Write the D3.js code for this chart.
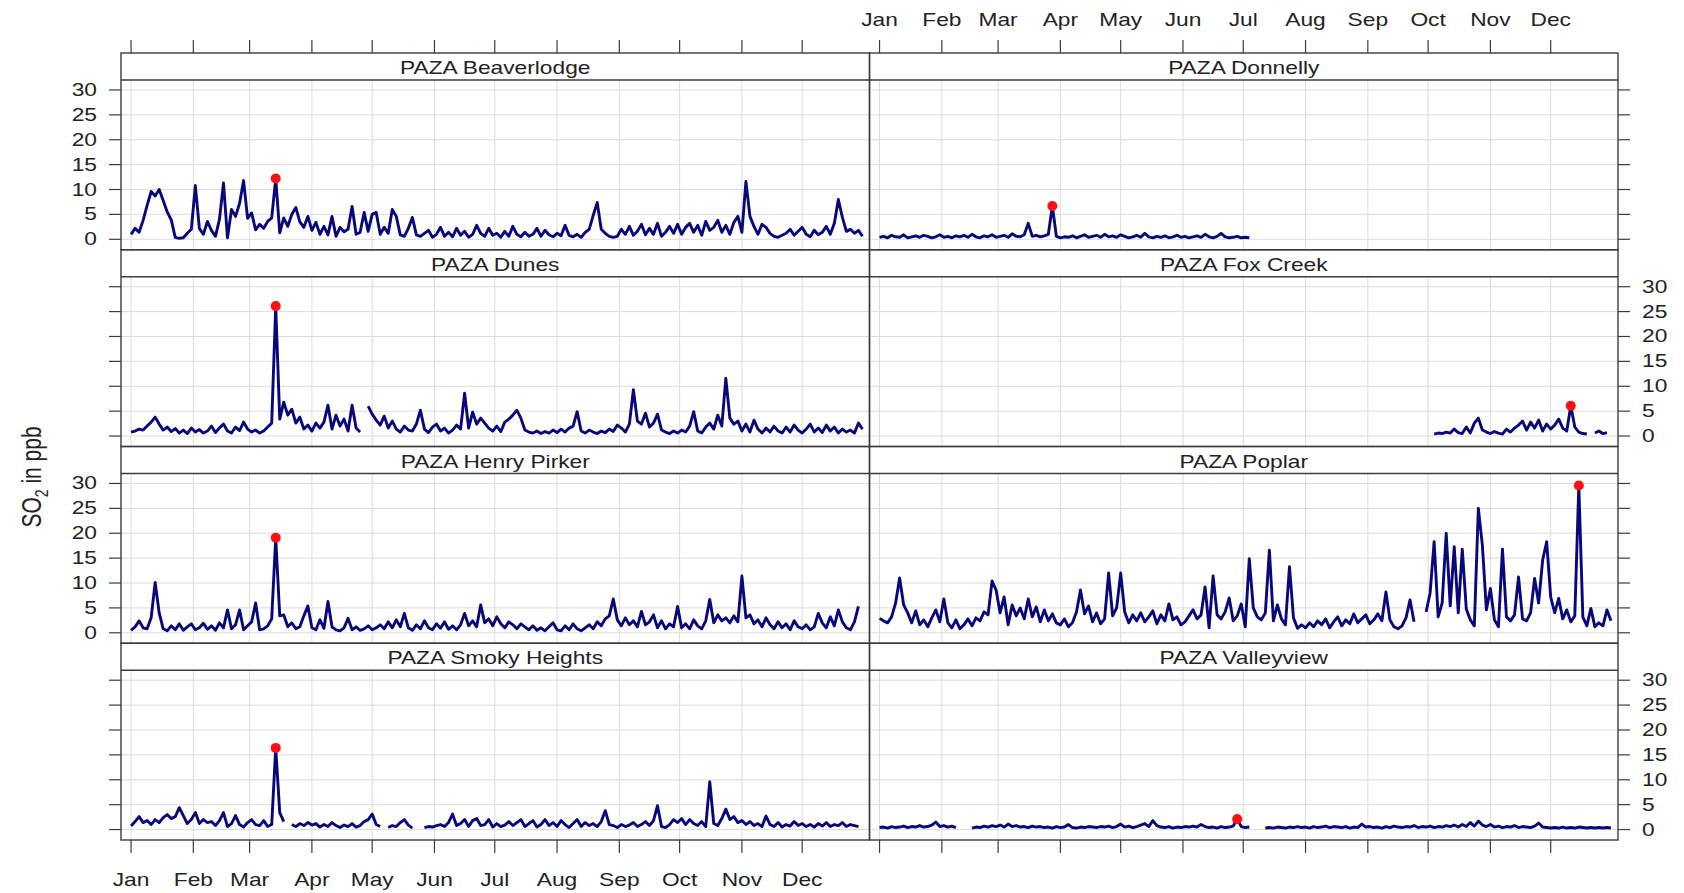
<!DOCTYPE html>
<html>
<head>
<meta charset="utf-8">
<script src="https://cdn.jsdelivr.net/npm/d3@7"></script>
<style>
html,body{margin:0;padding:0;background:#fff;}
svg{display:block;}
text{font-family:"Liberation Sans",Arial,Helvetica,sans-serif;fill:#222;}
</style>
</head>
<body>
<svg id="chart" width="1684" height="893"></svg>
<script>
// ---------------- DATA (2-day samples, day 0 = 1 Jan) ----------------
const months = ["Jan","Feb","Mar","Apr","May","Jun","Jul","Aug","Sep","Oct","Nov","Dec"];
const monthStarts = [0,31,59,90,120,151,181,212,243,273,304,334];
const yTicks = [0,5,10,15,20,25,30];
const stepDays = 2;

const beaverlodge = [1.0,2.2,1.4,3.8,6.8,9.6,8.7,10.0,7.8,5.5,
3.9,0.4,0.2,0.3,1.2,2.0,10.8,2.2,1.0,3.6,
1.8,0.6,4.0,11.3,0.3,6.0,4.6,7.2,11.8,4.2,
5.3,1.9,3.0,2.2,3.6,4.3,12.2,1.3,4.3,2.6,
5.0,6.4,3.5,2.4,4.6,1.8,3.4,1.0,2.6,0.9,
4.6,0.6,2.4,1.5,2.0,6.6,1.0,1.4,5.4,1.6,
5.0,5.4,1.0,2.4,1.2,6.0,4.6,0.9,0.6,2.2,
4.4,0.9,0.6,1.2,1.8,0.4,1.0,2.4,0.6,1.4,
0.5,2.2,0.8,1.6,0.4,1.0,2.8,1.2,0.6,2.2,
0.8,1.2,0.4,1.6,0.6,2.6,1.0,0.5,1.4,0.6,
1.0,2.2,0.6,1.8,0.9,0.5,1.2,0.7,2.8,0.8,
0.5,1.0,0.4,1.4,2.0,4.8,7.4,2.0,1.2,0.6,
0.4,0.6,2.0,1.0,2.6,0.8,1.6,3.0,0.9,2.2,
1.0,3.2,0.6,1.4,2.6,1.2,3.0,1.0,2.4,3.2,
1.4,2.8,0.8,3.6,1.8,2.4,3.8,1.4,2.8,1.0,
3.4,4.6,1.4,11.6,4.6,2.6,1.0,3.0,2.4,1.2,
0.6,0.4,0.8,1.2,2.0,0.8,1.6,2.4,1.0,0.5,
1.8,0.9,1.4,2.6,1.0,3.2,8.0,4.4,1.6,2.0,
1.2,1.8,0.6];

const donnelly = [0.4,0.6,0.3,0.8,0.5,0.4,0.9,0.3,0.5,0.7,
0.4,0.8,0.6,0.3,0.5,0.9,0.4,0.6,0.3,0.7,
0.5,0.8,0.4,1.0,0.5,0.3,0.7,0.5,0.9,0.4,
0.6,0.8,0.4,1.1,0.6,0.5,0.9,3.2,0.6,0.8,
0.5,0.7,1.0,6.7,0.6,0.3,0.5,0.4,0.7,0.3,
0.6,0.9,0.4,0.6,0.8,0.4,1.0,0.5,0.7,0.4,
0.9,0.6,0.3,0.5,0.8,0.4,1.2,0.5,0.3,0.6,
0.4,0.7,0.3,0.5,0.8,0.4,0.6,0.3,0.5,0.7,
0.4,1.0,0.5,0.3,0.6,1.2,0.5,0.3,0.4,0.6,
0.3,0.4,0.3];

const dunes = [0.8,1.0,1.4,1.2,2.0,2.8,3.8,2.4,1.2,1.8,
0.9,1.5,0.6,1.2,0.5,1.6,0.8,1.3,0.6,1.0,
2.0,0.7,1.6,2.4,1.0,0.6,1.8,1.1,2.8,1.4,
0.8,1.2,0.6,1.0,1.8,2.6,26.1,3.4,6.8,4.2,
5.4,2.6,3.8,1.4,2.2,1.0,2.6,1.6,2.8,6.2,
1.4,4.2,2.0,3.4,1.0,6.2,1.6,0.8,null,6.0,
4.4,3.2,2.2,4.0,1.6,3.0,1.4,0.8,2.0,1.2,
1.0,2.4,5.2,1.4,0.7,1.8,2.4,1.0,1.6,0.6,
1.2,2.2,1.4,8.6,1.6,4.8,2.4,3.6,2.6,1.6,
1.0,2.0,0.9,2.8,3.4,4.2,5.2,3.6,1.2,0.8,
0.6,1.0,0.5,0.9,0.6,1.2,0.7,1.4,0.8,1.6,
2.0,4.9,1.0,0.6,1.2,0.8,0.5,1.0,0.7,1.4,
0.9,2.2,1.6,0.8,2.4,9.3,3.0,2.4,4.6,1.8,
2.6,4.4,1.2,0.8,0.5,1.0,0.6,1.2,0.8,2.0,
4.9,1.0,0.6,1.8,2.6,1.4,4.2,2.0,11.6,3.6,
2.4,3.0,1.0,2.4,0.8,3.2,1.4,0.6,1.6,0.8,
2.0,1.0,0.6,1.8,0.8,2.2,1.2,0.6,1.4,2.4,
0.8,1.6,0.7,2.2,1.0,1.8,0.6,1.4,0.8,1.2,
0.6,2.6,1.4];

const foxCreek = [0.4,0.6,0.5,0.8,0.6,1.4,0.7,0.5,1.8,0.6,
2.6,3.6,1.2,0.8,0.5,0.9,0.6,0.4,1.4,0.8,
1.6,2.2,3.0,1.2,2.8,1.6,3.2,1.0,2.4,1.4,
2.2,3.4,1.6,1.0,6.1,1.8,0.8,0.5,0.4,null,
0.6,1.0,0.5,0.7];

const henryPirker = [0.5,1.2,2.4,1.0,0.8,3.0,10.1,4.0,0.8,0.4,
1.4,0.6,1.8,0.5,1.2,1.8,0.6,1.0,1.9,0.7,
1.4,0.5,2.0,1.0,4.6,0.8,1.6,4.6,0.6,1.4,
2.2,6.0,0.6,0.8,1.4,2.8,19.1,3.4,3.6,1.2,
2.0,0.8,1.2,3.4,5.4,1.0,0.6,2.6,0.9,6.3,
1.2,0.6,0.4,1.0,2.9,0.6,1.2,0.5,0.8,1.4,
0.6,1.0,1.6,0.8,2.2,1.0,2.6,1.2,3.9,1.0,
0.5,1.6,0.8,2.4,1.0,0.6,1.8,0.9,2.2,0.7,
1.4,0.6,1.6,3.9,1.4,2.4,1.2,5.6,2.0,2.8,
1.4,3.2,1.8,1.0,2.2,1.6,0.8,1.8,1.2,0.6,
1.4,0.5,1.0,0.4,1.2,2.0,0.6,0.4,1.4,0.6,
1.8,0.8,0.4,1.0,1.6,0.8,2.2,1.4,2.8,3.4,
6.8,2.6,1.4,3.0,1.6,2.4,1.2,4.3,1.6,2.2,
3.6,1.0,2.4,0.8,1.8,1.2,5.3,1.0,1.8,0.8,
2.6,1.4,0.8,2.4,6.7,2.0,3.6,2.4,3.0,2.0,
3.4,2.2,11.4,3.0,3.6,1.8,2.6,1.2,3.0,1.6,
0.8,2.2,1.0,1.8,0.6,2.4,1.2,0.8,1.6,0.6,
1.2,3.9,2.0,1.0,3.2,1.4,4.6,2.2,1.0,0.6,
2.2,5.3];

const poplar = [2.9,2.4,2.0,3.2,6.0,11.0,5.6,4.0,2.0,4.4,
1.6,2.6,1.2,3.0,4.6,2.2,6.8,2.0,1.0,2.6,
0.8,1.6,2.8,1.4,3.0,2.4,4.2,3.6,10.4,8.6,
4.0,7.2,1.6,5.6,3.4,5.0,2.8,6.8,3.2,5.2,
2.2,4.6,2.4,3.8,2.0,1.6,2.8,1.2,2.0,4.2,
8.6,3.8,5.4,2.2,4.0,1.8,2.8,12.0,3.4,5.0,
12.0,4.2,2.0,3.6,2.4,4.0,2.2,3.2,4.4,1.8,
3.6,2.4,5.8,2.6,3.2,1.6,2.2,3.4,4.6,2.8,
3.6,9.2,1.0,11.4,3.6,2.8,4.2,7.0,2.4,3.4,
5.8,1.2,14.9,5.0,3.2,2.6,4.0,16.6,2.4,5.6,
2.8,1.6,13.3,3.0,0.9,1.6,1.0,2.0,1.2,2.4,
1.6,2.8,1.0,2.2,3.2,1.4,2.6,1.8,3.8,2.0,
2.8,3.6,1.8,2.6,3.8,2.4,8.2,2.6,1.2,0.8,
1.4,3.0,6.6,2.2,null,null,4.2,8.0,18.3,3.2,
6.0,20.0,5.4,17.3,4.0,16.8,4.8,2.6,1.4,25.0,
17.6,4.6,8.9,2.6,1.2,16.8,3.2,2.4,3.6,11.2,
2.8,2.4,4.0,10.9,6.0,14.6,18.3,7.2,4.0,6.9,
2.8,4.6,2.2,3.4,29.6,3.2,1.4,4.9,1.2,2.0,
1.4,4.6,2.4];

const smokyHeights = [0.7,1.6,2.6,1.4,1.8,1.0,2.0,1.4,2.4,3.0,
2.2,2.6,4.4,2.8,1.2,2.0,3.4,1.2,2.0,1.4,
1.6,0.8,1.8,3.4,0.6,1.2,2.8,1.0,0.5,1.4,
2.0,1.0,0.8,1.8,0.6,1.0,16.4,3.4,1.6,null,
1.0,0.6,1.2,0.8,1.4,0.9,1.2,0.5,1.0,0.6,
1.4,0.8,0.4,0.9,0.6,1.2,0.5,0.8,1.6,2.0,
3.1,1.0,0.6,null,0.4,0.8,0.6,1.4,2.0,0.9,
0.3,null,null,0.4,0.6,0.5,0.8,1.0,0.6,1.4,
3.1,0.8,1.2,2.0,0.6,1.8,2.2,0.8,1.0,2.0,
0.5,1.2,0.6,0.9,1.6,0.8,1.4,2.0,0.6,1.2,
1.8,0.5,1.0,2.0,0.8,1.4,0.6,1.8,1.0,0.4,
1.2,2.0,0.6,1.4,0.8,1.2,0.6,1.6,3.8,1.0,
0.8,0.4,1.0,0.6,0.9,1.4,0.6,1.0,1.6,0.8,
1.8,4.8,0.6,0.4,1.0,2.0,1.4,2.2,1.0,2.0,
1.2,0.8,1.6,0.6,9.6,1.2,0.8,2.2,4.1,2.0,
2.6,1.4,1.8,1.0,1.6,0.8,1.2,0.6,2.7,1.0,
0.6,1.4,0.5,1.0,0.7,1.6,0.8,1.2,0.6,1.0,
0.5,1.2,0.7,1.4,0.6,1.0,0.8,1.4,0.6,1.0,
0.8,0.6];

const valleyview = [0.4,0.5,0.3,0.6,0.4,0.5,0.7,0.4,0.6,0.5,
0.8,0.5,0.6,0.9,1.5,0.6,0.8,0.5,0.7,0.4,
null,null,null,0.3,0.5,0.4,0.7,0.5,0.8,0.6,
0.9,0.5,1.1,0.6,0.8,0.5,0.6,0.4,0.7,0.5,
0.6,0.4,0.5,0.3,0.6,0.4,0.5,1.0,0.4,0.3,
0.5,0.4,0.6,0.5,0.4,0.6,0.5,0.7,0.4,0.6,
1.1,0.5,0.7,0.4,0.6,0.9,1.2,0.6,1.8,0.8,
0.5,0.4,0.6,0.3,0.5,0.4,0.6,0.5,0.7,0.5,
1.0,0.6,0.4,0.5,0.3,0.6,0.4,0.5,0.7,2.1,
0.6,0.4,0.5,null,null,null,0.3,0.4,0.3,0.5,
0.4,0.3,0.5,0.4,0.6,0.4,0.5,0.3,0.6,0.4,
0.5,0.7,0.4,0.6,0.5,0.4,0.6,0.3,0.5,0.4,
1.1,0.5,0.6,0.4,0.5,0.3,0.6,0.4,0.7,0.5,
0.4,0.6,0.5,0.8,0.4,0.6,0.5,0.7,0.4,0.6,
0.5,0.8,0.6,0.9,0.5,1.0,0.6,1.4,0.7,1.7,
0.9,0.6,1.0,0.5,0.7,0.4,0.6,0.5,0.8,0.4,
0.6,0.5,0.4,0.7,1.3,0.5,0.4,0.3,0.4,0.3,
0.5,0.3,0.4,0.3,0.5,0.4,0.3,0.4,0.3,0.4,
0.3,0.4,0.3];

const stationNames = ["PAZA Beaverlodge","PAZA Donnelly","PAZA Dunes","PAZA Fox Creek",
                      "PAZA Henry Pirker","PAZA Poplar","PAZA Smoky Heights","PAZA Valleyview"];
const stationSeries = [beaverlodge, donnelly, dunes, foxCreek, henryPirker, poplar, smokyHeights, valleyview];
const stationStartDay = [0, 0, 0, 276, 0, 0, 0, 0];

// ---------------- LAYOUT ----------------
const svg = d3.select("#chart");
const colX = [121, 869.5];
const colW = 748.5;
const top0 = 53, rowH = 196.75, stripH = 27;
const tickLen = 12;
const FS = 17.5, SX = 1.3;   // font size and horizontal stretch of the reference text

svg.append("rect").attr("width",1684).attr("height",893).attr("fill","#fff");

function stext(g, x, y, str, anchor){
  return g.append("text")
    .attr("transform", `translate(${x},${y}) scale(${SX},1)`)
    .attr("text-anchor", anchor)
    .attr("font-size", FS)
    .text(str);
}

const lineColor = "#08087a";
const borderColor = "#3c3c3c";
const gridColor = "#dcdcdc";

const defs = svg.append("defs");

stationNames.forEach((name, k) => {
  const row = Math.floor(k/2), col = k%2;
  const x0 = colX[col];
  const rowTop = top0 + row*rowH;
  const plotTop = rowTop + stripH, plotBot = rowTop + rowH;

  const x = d3.scaleLinear().domain([-5, 367.5]).range([x0, x0+colW]);
  const y = d3.scaleLinear().domain([-2.1, 32]).range([plotBot, plotTop]);

  const g = svg.append("g");
  const cid = "clip"+k;
  defs.append("clipPath").attr("id",cid).append("rect")
    .attr("x",x0).attr("y",plotTop).attr("width",colW).attr("height",plotBot-plotTop);

  // grid
  const grid = g.append("g").attr("clip-path",`url(#${cid})`);
  grid.selectAll("line.v").data(monthStarts).join("line")
    .attr("x1",d=>x(d)).attr("x2",d=>x(d)).attr("y1",plotTop).attr("y2",plotBot)
    .attr("stroke",gridColor).attr("stroke-width",1);
  grid.selectAll("line.h").data(yTicks).join("line")
    .attr("x1",x0).attr("x2",x0+colW).attr("y1",d=>y(d)).attr("y2",d=>y(d))
    .attr("stroke",gridColor).attr("stroke-width",1);

  // data
  const series = stationSeries[k];
  const pts = series.map((v,i)=>({day: stationStartDay[k] + i*stepDays, v}));
  const line = d3.line().defined(d=>d.v!==null).x(d=>x(d.day)).y(d=>y(d.v));
  grid.append("path").datum(pts).attr("d",line)
    .attr("fill","none").attr("stroke",lineColor).attr("stroke-width",2.9)
    .attr("stroke-linejoin","round");

  const valid = pts.filter(d=>d.v!==null);
  const mx = valid.reduce((a,b)=> b.v>a.v ? b : a);
  g.append("circle").attr("cx",x(mx.day)).attr("cy",y(mx.v)).attr("r",5).attr("fill","#ff1010");

  // panel + strip borders
  g.append("rect").attr("x",x0).attr("y",rowTop).attr("width",colW).attr("height",rowH)
    .attr("fill","none").attr("stroke",borderColor).attr("stroke-width",1.4);
  g.append("line").attr("x1",x0).attr("x2",x0+colW).attr("y1",plotTop).attr("y2",plotTop)
    .attr("stroke",borderColor).attr("stroke-width",1.4);
  stext(g, x0+colW/2, rowTop+21, name, "middle");

  // y axis ticks (alternating like lattice)
  const ay = svg.append("g");
  ay.selectAll("line.l").data(yTicks).join("line")
    .attr("x1", col===0 ? x0-tickLen : x0+colW)
    .attr("x2", col===0 ? x0 : x0+colW+tickLen)
    .attr("y1",d=>y(d)).attr("y2",d=>y(d))
    .attr("stroke",borderColor).attr("stroke-width",1.2);
  const labelled = (col===0 && row%2===0) || (col===1 && row%2===1);
  if (labelled) {
    yTicks.forEach(t=>{
      if (col===0) stext(ay, x0-24, y(t)+6, String(t), "end");
      else stext(ay, x0+colW+24, y(t)+6, String(t), "start");
    });
  }

  // x axis ticks
  const ax = svg.append("g");
  if (row===0) {
    ax.selectAll("line").data(monthStarts).join("line")
      .attr("x1",d=>x(d)).attr("x2",d=>x(d)).attr("y1",rowTop-13).attr("y2",rowTop)
      .attr("stroke",borderColor).attr("stroke-width",1.2);
    if (col===1) months.forEach((m,i)=> stext(ax, x(monthStarts[i]), 26, m, "middle"));
  }
  if (row===3) {
    ax.selectAll("line").data(monthStarts).join("line")
      .attr("x1",d=>x(d)).attr("x2",d=>x(d)).attr("y1",plotBot).attr("y2",plotBot+13)
      .attr("stroke",borderColor).attr("stroke-width",1.2);
    if (col===0) months.forEach((m,i)=> stext(ax, x(monthStarts[i]), 886, m, "middle"));
  }
});

// y axis title
const yl = svg.append("text")
  .attr("transform","translate(41,477) rotate(-90) scale(1,1.3)")
  .attr("text-anchor","middle")
  .attr("font-size",21);
yl.append("tspan").text("SO");
yl.append("tspan").attr("font-size",14).attr("dy",5).text("2");
yl.append("tspan").attr("dy",-5).text(" in ppb");
</script>
</body>
</html>
